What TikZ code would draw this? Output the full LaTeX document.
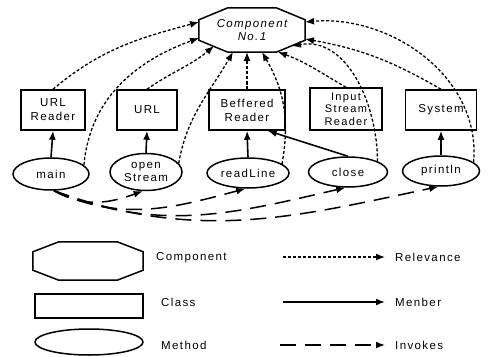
\documentclass[tikz,border=0pt]{standalone}
\usepackage{fontspec}
\setmainfont{Liberation Sans}[LetterSpace=12]
\usetikzlibrary{arrows.meta,shapes.geometric,calc}

% octagon drawn round a node: name, chamfer x, chamfer y
\newcommand{\octframe}[3]{%
  \draw[line width=1.5pt] ([xshift=#2]#1.north west) -- ([xshift=-#2]#1.north east)
    -- ([yshift=-#3]#1.north east) -- ([yshift=#3]#1.south east)
    -- ([xshift=-#2]#1.south east) -- ([xshift=#2]#1.south west)
    -- ([yshift=#3]#1.south west) -- ([yshift=-#3]#1.north west) -- cycle;}

\tikzset{
  comp/.style={inner sep=0pt, align=center, font=\fontsize{11.5}{12.5}\selectfont\itshape},
  cls/.style={draw, line width=1.5pt, minimum height=40pt, inner sep=0pt, align=center, font=\fontsize{11.5}{14}\selectfont},
  meth/.style={ellipse, draw, line width=1.5pt, inner sep=0pt, align=center, font=\fontsize{11.5}{12.5}\selectfont},
  lbl/.style={anchor=west, inner sep=0pt, font=\fontsize{11.5}{12.5}\selectfont},
  rel/.style={-{Latex[length=9pt,width=7pt]}, line width=1.3pt, dash pattern=on 3pt off 2pt},
  mem/.style={-{Latex[length=9pt,width=7pt]}, line width=1.6pt},
  inv/.style={-{Latex[length=9pt,width=7pt]}, line width=1.5pt, dash pattern=on 16pt off 9pt}
}

\begin{document}
\begin{tikzpicture}[x=1pt,y=1pt]
    \useasboundingbox (0,0) rectangle (492,-356);

    \node[comp, minimum width=106pt, minimum height=44pt] (comp) at (252,-30) {Component\\No.1};
    \octframe{comp}{29pt}{12pt}

    % classes
    \node[cls, minimum width=64pt] (urlr) at (53,-110) {URL\\Reader};
    \node[cls, minimum width=60pt] (url) at (147,-110) {URL};
    \node[cls, minimum width=76pt] (bref) at (247,-110) {Beffered\\Reader};
    \node[cls, minimum width=72pt, minimum height=42pt, font=\fontsize{11}{12.5}\selectfont] (isr) at (346,-109) {Input\\Stream\\Reader};
    \node[cls, minimum width=71pt] (sys) at (441,-110) {System};

    % methods
    \node[meth, minimum width=76pt, minimum height=32pt] (main) at (51,-174) {main};
    \node[meth, minimum width=72pt, minimum height=37pt] (open) at (146,-172) {open\\Stream};
    \node[meth, minimum width=82pt, minimum height=30pt] (readl) at (248,-173) {readLine};
    \node[meth, minimum width=79pt, minimum height=30pt] (close) at (348,-172) {close};
    \node[meth, minimum width=77pt, minimum height=30pt] (println) at (441,-171) {println};

    \draw[mem] (main.north) -- (urlr.south);
    \draw[mem] (open.north) -- (url.south);
    \draw[mem] (readl.north) -- (bref.south);
    \draw[mem] (close.north) -- ([xshift=-18pt]bref.south east);
    \draw[mem] (println.north) -- (sys.south);

    % source / end point on the octagon / out / in
    \foreach \src/\dx/\dy/\o/\i in {urlr.north/-53/8/40/195, main.15/-53/-8/85/200,
        url.north/-38/-16/35/220, open.15/-19/-22/80/240, bref.north/-5/-22/90/-90,
        readl.15/10/-22/80/-60, isr.north/26/-22/150/-20, close.20/40/-16/90/10,
        sys.north/53/-9/150/-10, println.15/53/8/85/5}
    {
        \draw[rel] (\src) to[out=\o,in=\i] ($(comp)+(\dx,\dy)$);
    }

    \foreach \t/\o/\i in {open/-30/200, readl/-25/195, close/-22/193, println/-20/192}
    {
        \draw[inv] (main.-80) to[out=\o,in=\i] (\t.-100);
    }

    % legend
    \node[inner sep=0pt, minimum width=110pt, minimum height=38pt] (lcomp) at (88,-261) {};
    \octframe{lcomp}{26pt}{10pt}
    \node[cls, minimum width=108pt, minimum height=24pt] (lcls) at (89,-306) {};
    \node[meth, minimum width=108pt, minimum height=26pt] (lmeth) at (89,-342) {};

    \node[lbl] (tcomp) at (156,-258) {Component};
    \node[lbl] (tcls) at (161,-302) {Class};
    \node[lbl] (tmeth) at (161,-345) {Method};
    \node[lbl] (trel) at (395,-257) {Relevance};
    \node[lbl] (tmem) at (395,-302) {Menber};
    \node[lbl] (tinv) at (395,-345) {Invokes};

    \coordinate (rel0) at (283,-257);
    \coordinate (rel1) at (385,-257);
    \coordinate (mem0) at (283,-302);
    \coordinate (mem1) at (385,-302);
    \coordinate (inv0) at (280,-345);
    \coordinate (inv1) at (385,-345);
    \draw[rel] (rel0) -- (rel1);
    \draw[mem] (mem0) -- (mem1);
    \draw[inv] (inv0) -- (inv1);

\end{tikzpicture}
\end{document}
